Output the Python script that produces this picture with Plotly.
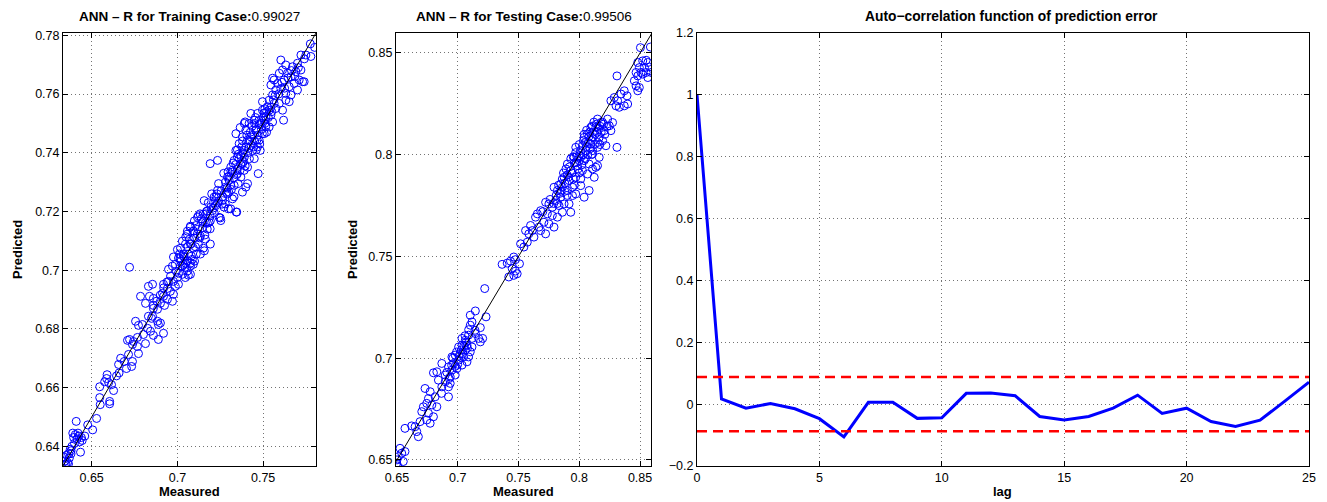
import plotly.graph_objects as go


# -----------------------------
# DATA
# -----------------------------

TRAIN_R = "0.99027"
TEST_R = "0.99506"

# training case: (measured, predicted)
train_points = [
    (0.6335, 0.6365), (0.6340, 0.6335), (0.6345, 0.6350), (0.6350, 0.6340), (0.6355, 0.6370),
    (0.6360, 0.6345), (0.6365, 0.6375), (0.6370, 0.6360), (0.6375, 0.6390), (0.6380, 0.6385),
    (0.6385, 0.6400), (0.6390, 0.6445), (0.6395, 0.6430), (0.6400, 0.6410), (0.6405, 0.6440),
    (0.6410, 0.6485), (0.6415, 0.6425), (0.6420, 0.6445), (0.6425, 0.6435), (0.6430, 0.6415),
    (0.6435, 0.6380), (0.6440, 0.6430), (0.6445, 0.6420), (0.6460, 0.6435), (0.6380, 0.6375),
    (0.6365, 0.6340), (0.6477, 0.6473), (0.6506, 0.6456), (0.6529, 0.6495),
    (0.6547, 0.6603), (0.6547, 0.6566), (0.6550, 0.6542), (0.6587, 0.6631), (0.6599, 0.6617),
    (0.6605, 0.6545), (0.6605, 0.6553), (0.6628, 0.6590), (0.6616, 0.6610), (0.6645, 0.6640),
    (0.6660, 0.6650), (0.6590, 0.6644), (0.6576, 0.6620),
    (0.6657, 0.6679), (0.6669, 0.6700), (0.6690, 0.6689), (0.6703, 0.6665), (0.6715, 0.6713),
    (0.6733, 0.6672), (0.6738, 0.6689), (0.6709, 0.6761), (0.6721, 0.6764), (0.6738, 0.6747),
    (0.6744, 0.6757), (0.6767, 0.6740), (0.6773, 0.6716), (0.6767, 0.6771), (0.6756, 0.6826),
    (0.6773, 0.6812), (0.6796, 0.6815), (0.6802, 0.6781), (0.6814, 0.6750), (0.6831, 0.6843),
    (0.6849, 0.6836), (0.6826, 0.6802), (0.6843, 0.6792), (0.6860, 0.6778), (0.6889, 0.6764),
    (0.6919, 0.6785), (0.6889, 0.6815), (0.6901, 0.6820), (0.6721, 0.7010),
    (0.6831, 0.6945), (0.6855, 0.6952), (0.6837, 0.6911), (0.6785, 0.6911), (0.6814, 0.6887),
    (0.6860, 0.6904), (0.6860, 0.6870), (0.6884, 0.6867), (0.6901, 0.6887), (0.6913, 0.6921),
    (0.6919, 0.6952), (0.6942, 0.6938), (0.6948, 0.6962), (0.6959, 0.6928), (0.6977, 0.6918),
    (0.6971, 0.6894), (0.6942, 0.6901), (0.6925, 0.6880), (0.6988, 0.6945), (0.7006, 0.6952),
    (0.6948, 0.7003), (0.6971, 0.7014), (0.6994, 0.6996), (0.7000, 0.6975), (0.7029, 0.6986),
    (0.7017, 0.7014), (0.7035, 0.7020), (0.7046, 0.6975), (0.7064, 0.6983), (0.7006, 0.7041),
    (0.7035, 0.7048), (0.7076, 0.7014), (0.7093, 0.7020), (0.7087, 0.7037), (0.7058, 0.7031),
    (0.7134, 0.7055), (0.7157, 0.7066), (0.6977, 0.6962), (0.6919, 0.6911), (0.6884, 0.6826),
    (0.6855, 0.6843),
    (0.7122, 0.7185), (0.7151, 0.7191), (0.7174, 0.7202), (0.7209, 0.7212), (0.7233, 0.7229),
    (0.7279, 0.7226), (0.7297, 0.7209), (0.7343, 0.7198), (0.7250, 0.7178), (0.7192, 0.7168),
    (0.7163, 0.7161), (0.7076, 0.7150), (0.7093, 0.7133), (0.7058, 0.7123), (0.7116, 0.7123),
    (0.7145, 0.7144), (0.7174, 0.7140), (0.7192, 0.7089), (0.7151, 0.7075), (0.7163, 0.7106),
    (0.7134, 0.7116), (0.7093, 0.7075), (0.7076, 0.7089), (0.7047, 0.7089), (0.7018, 0.7075),
    (0.7000, 0.7070), (0.7035, 0.7055), (0.7064, 0.7055), (0.7082, 0.7048), (0.7110, 0.7055),
    (0.7100, 0.7031), (0.7076, 0.7024), (0.7047, 0.7024), (0.7029, 0.7014), (0.7058, 0.6997),
    (0.7076, 0.6986), (0.7006, 0.6990), (0.6988, 0.7020), (0.6977, 0.7045), (0.7012, 0.7055),
    (0.7029, 0.7099), (0.7058, 0.7133), (0.7099, 0.7168), (0.7122, 0.7089),
    (0.7049, 0.7114), (0.7074, 0.7146), (0.7093, 0.7133), (0.7107, 0.7152), (0.7117, 0.7180),
    (0.7132, 0.7192), (0.7156, 0.7237), (0.7165, 0.7192), (0.7185, 0.7163), (0.7191, 0.7141),
    (0.7204, 0.7203), (0.7214, 0.7249), (0.7224, 0.7220), (0.7234, 0.7272), (0.7243, 0.7180),
    (0.7253, 0.7169), (0.7263, 0.7237), (0.7272, 0.7215), (0.7282, 0.7283), (0.7292, 0.7260),
    (0.7302, 0.7306), (0.7311, 0.7209), (0.7321, 0.7243), (0.7331, 0.7289), (0.7346, 0.7198),
    (0.7354, 0.7295), (0.7370, 0.7317), (0.7379, 0.7266), (0.7389, 0.7340), (0.7399, 0.7283),
    (0.7409, 0.7295), (0.7191, 0.7363), (0.7234, 0.7374), (0.7471, 0.7329),
    (0.7311, 0.7351), (0.7331, 0.7374), (0.7341, 0.7408), (0.7350, 0.7329), (0.7360, 0.7431),
    (0.7370, 0.7391), (0.7379, 0.7454), (0.7389, 0.7408), (0.7399, 0.7477), (0.7409, 0.7443),
    (0.7418, 0.7500), (0.7428, 0.7454), (0.7438, 0.7408), (0.7448, 0.7511), (0.7457, 0.7477),
    (0.7467, 0.7534), (0.7477, 0.7443), (0.7487, 0.7500), (0.7496, 0.7545), (0.7506, 0.7465),
    (0.7516, 0.7522), (0.7525, 0.7557), (0.7535, 0.7488), (0.7395, 0.7505), (0.7428, 0.7534),
    (0.7467, 0.7420), (0.7350, 0.7386), (0.7321, 0.7334), (0.7292, 0.7317), (0.7341, 0.7465),
    (0.7366, 0.7486), (0.7448, 0.7380), (0.7483, 0.7408), (0.7506, 0.7511), (0.7545, 0.7528),
    (0.7564, 0.7568), (0.7555, 0.7505), (0.7619, 0.7511), (0.7496, 0.7574), (0.7379, 0.7363),
    (0.7409, 0.7351), (0.7390, 0.7500),
    (0.7535, 0.7579), (0.7555, 0.7597), (0.7574, 0.7614), (0.7584, 0.7636), (0.7603, 0.7619),
    (0.7623, 0.7648), (0.7632, 0.7602), (0.7642, 0.7671), (0.7652, 0.7625), (0.7662, 0.7659),
    (0.7671, 0.7693), (0.7681, 0.7636), (0.7691, 0.7676), (0.7700, 0.7705), (0.7710, 0.7648),
    (0.7720, 0.7682), (0.7730, 0.7642), (0.7739, 0.7642), (0.7613, 0.7682), (0.7594, 0.7671),
    (0.7564, 0.7648), (0.7555, 0.7654), (0.7545, 0.7631), (0.7603, 0.7716), (0.7632, 0.7699),
    (0.7662, 0.7597), (0.7632, 0.7579), (0.7652, 0.7574), (0.7720, 0.7733), (0.7775, 0.7771),
    (0.7800, 0.7759), (0.7778, 0.7728), (0.7749, 0.7733), (0.7574, 0.7551), (0.7594, 0.7568),
    (0.7613, 0.7545), (0.7700, 0.7614),
    (0.7150, 0.7165), (0.7170, 0.7200), (0.7190, 0.7185), (0.7210, 0.7230), (0.7225, 0.7250),
    (0.7240, 0.7235), (0.7255, 0.7270), (0.7265, 0.7250), (0.7280, 0.7300), (0.7290, 0.7280),
    (0.7300, 0.7320), (0.7310, 0.7290), (0.7320, 0.7340), (0.7330, 0.7315), (0.7340, 0.7360),
    (0.7350, 0.7345), (0.7360, 0.7380), (0.7370, 0.7360), (0.7380, 0.7400), (0.7390, 0.7385),
    (0.7400, 0.7420), (0.7410, 0.7400), (0.7420, 0.7440), (0.7430, 0.7425), (0.7440, 0.7460),
    (0.7450, 0.7440), (0.7460, 0.7480), (0.7470, 0.7460), (0.7480, 0.7495), (0.7490, 0.7480),
    (0.7500, 0.7520), (0.7510, 0.7500), (0.7520, 0.7540), (0.7530, 0.7520), (0.7545, 0.7555),
    (0.7560, 0.7580), (0.7100, 0.7110), (0.7080, 0.7090), (0.7060, 0.7080), (0.7040, 0.7045),
    (0.7120, 0.7140), (0.7130, 0.7110), (0.7270, 0.7330), (0.7300, 0.7265), (0.7350, 0.7410),
    (0.7395, 0.7355), (0.7435, 0.7490), (0.7460, 0.7410), (0.7240, 0.7295), (0.7200, 0.7260),
    (0.7330, 0.7250), (0.7380, 0.7440), (0.7420, 0.7380), (0.7450, 0.7500), (0.7480, 0.7430),
    (0.7510, 0.7550), (0.7520, 0.7470), (0.7160, 0.7120), (0.7180, 0.7230), (0.7020, 0.7030),
    (0.6960, 0.6980), (0.6940, 0.6960), (0.6920, 0.6940), (0.6900, 0.6915), (0.6880, 0.6895),
    (0.6860, 0.6880),
    (0.7015, 0.7040), (0.7045, 0.7010), (0.7070, 0.7105), (0.7105, 0.7080), (0.7140, 0.7175),
    (0.7175, 0.7160), (0.7195, 0.7215), (0.7215, 0.7195), (0.7230, 0.7260), (0.7260, 0.7225),
    (0.7285, 0.7265), (0.7295, 0.7335), (0.7315, 0.7275), (0.7325, 0.7365), (0.7345, 0.7325),
    (0.7355, 0.7395), (0.7365, 0.7340), (0.7375, 0.7420), (0.7385, 0.7370), (0.7405, 0.7460),
    (0.7415, 0.7415), (0.7425, 0.7470), (0.7445, 0.7420), (0.7455, 0.7520), (0.7465, 0.7445),
    (0.7475, 0.7510), (0.7495, 0.7465), (0.7505, 0.7535), (0.7515, 0.7490), (0.7535, 0.7545),
    (0.7550, 0.7540), (0.7570, 0.7595), (0.7590, 0.7600), (0.7610, 0.7640), (0.7625, 0.7620),
    (0.7645, 0.7655), (0.7665, 0.7680), (0.7685, 0.7660), (0.7705, 0.7690), (0.7740, 0.7720),
]

# testing case: (measured, predicted)
test_points = [
    (0.8503, 0.8526), (0.8585, 0.8529), (0.8481, 0.8453), (0.8522, 0.8461), (0.8550, 0.8464),
    (0.8564, 0.8453), (0.8494, 0.8428), (0.8536, 0.8428), (0.8577, 0.8431), (0.8467, 0.8404),
    (0.8508, 0.8404), (0.8550, 0.8404), (0.8591, 0.8404), (0.8481, 0.8387), (0.8522, 0.8396),
    (0.8564, 0.8379), (0.8467, 0.8338), (0.8494, 0.8330), (0.8481, 0.8314), (0.8453, 0.8363),
    (0.8310, 0.8387), (0.8260, 0.8265), (0.8288, 0.8281), (0.8315, 0.8265), (0.8343, 0.8298),
    (0.8370, 0.8314), (0.8393, 0.8289), (0.8329, 0.8233), (0.8370, 0.8240), (0.8398, 0.8249),
    (0.8302, 0.8240),
    (0.8150, 0.8175), (0.8178, 0.8158), (0.8233, 0.8175), (0.8247, 0.8142), (0.8274, 0.8158),
    (0.8260, 0.8118), (0.8205, 0.8118), (0.8136, 0.8134), (0.8095, 0.8134), (0.8068, 0.8101),
    (0.8109, 0.8085), (0.8164, 0.8085), (0.8192, 0.8069), (0.8219, 0.8044), (0.8150, 0.8036),
    (0.8095, 0.8052), (0.8040, 0.8085), (0.8026, 0.8044), (0.8054, 0.8020), (0.8109, 0.8003),
    (0.8164, 0.7987), (0.8136, 0.7938), (0.8081, 0.7954), (0.8040, 0.7971), (0.7999, 0.7995),
    (0.7971, 0.8036), (0.7957, 0.7987), (0.7985, 0.7946), (0.8026, 0.7922), (0.8068, 0.7905),
    (0.8109, 0.7930), (0.8150, 0.7946), (0.8012, 0.7881), (0.7971, 0.7889), (0.7930, 0.7922),
    (0.7902, 0.7954), (0.7916, 0.7873), (0.7875, 0.7889), (0.7861, 0.7840), (0.7902, 0.7824),
    (0.7944, 0.7840), (0.7971, 0.7807), (0.7847, 0.7791), (0.7820, 0.7824), (0.7792, 0.7840),
    (0.7806, 0.7775), (0.7833, 0.7750), (0.7875, 0.7758), (0.7916, 0.7758), (0.7944, 0.7799),
    (0.7778, 0.7742), (0.7750, 0.7758), (0.7723, 0.7766), (0.7737, 0.7709), (0.7778, 0.7701),
    (0.7820, 0.7693), (0.7861, 0.7717), (0.7682, 0.7725), (0.7655, 0.7709), (0.7640, 0.7693),
    (0.7709, 0.7668), (0.7750, 0.7660), (0.7792, 0.7644), (0.7668, 0.7644), (0.7613, 0.7627),
    (0.7627, 0.7595), (0.7585, 0.7611), (0.7558, 0.7627), (0.7572, 0.7570), (0.7544, 0.7546),
    (0.7517, 0.7562), (0.7682, 0.7627), (0.7723, 0.7611), (0.7599, 0.7652), (0.8310, 0.8036),
    (0.8012, 0.7848), (0.8081, 0.7824), (0.8040, 0.7791), (0.7847, 0.7856), (0.7930, 0.7717),
    (0.8123, 0.7889),
    (0.7900, 0.7900), (0.7920, 0.7940), (0.7940, 0.7910), (0.7960, 0.7960), (0.7980, 0.7990),
    (0.8000, 0.7970), (0.8010, 0.8020), (0.8030, 0.8000), (0.8050, 0.8060), (0.8060, 0.8040),
    (0.8080, 0.8090), (0.8100, 0.8070), (0.8110, 0.8110), (0.8130, 0.8100), (0.8140, 0.8150),
    (0.8070, 0.8000), (0.8090, 0.8030), (0.8020, 0.7950), (0.7990, 0.7930), (0.7950, 0.7880),
    (0.7880, 0.7860), (0.7860, 0.7880), (0.7840, 0.7810), (0.7810, 0.7800), (0.7870, 0.7910),
    (0.8040, 0.8100), (0.8120, 0.8160), (0.8160, 0.8130), (0.8180, 0.8110), (0.8200, 0.8150),
    (0.7970, 0.8010), (0.8000, 0.8050), (0.8060, 0.8120), (0.8150, 0.8060), (0.8110, 0.8020),
    (0.7930, 0.7980),
    (0.7700, 0.7720), (0.7760, 0.7780), (0.7790, 0.7760), (0.7830, 0.7850), (0.7850, 0.7820),
    (0.7890, 0.7930), (0.7910, 0.7890), (0.7950, 0.7990), (0.7975, 0.7960), (0.8015, 0.7990),
    (0.8035, 0.8070), (0.8075, 0.8060), (0.8085, 0.8110), (0.8105, 0.8140), (0.8125, 0.8050),
    (0.8145, 0.8110), (0.8170, 0.8140), (0.8190, 0.8160), (0.8210, 0.8100), (0.8230, 0.8140),
    (0.8000, 0.7910), (0.8050, 0.7980), (0.7960, 0.7850), (0.7900, 0.7800), (0.7820, 0.7760),
    (0.7880, 0.7820), (0.8100, 0.8000), (0.8170, 0.8050),
    (0.7365, 0.7461), (0.7407, 0.7467), (0.7434, 0.7477), (0.7461, 0.7497), (0.7475, 0.7484),
    (0.7508, 0.7464), (0.7448, 0.7440), (0.7475, 0.7428), (0.7489, 0.7415), (0.7420, 0.7399),
    (0.7461, 0.7407), (0.7222, 0.7342),
    (0.7145, 0.7232), (0.7103, 0.7211), (0.7117, 0.7178), (0.7103, 0.7162), (0.7233, 0.7203),
    (0.7186, 0.7150), (0.7145, 0.7121), (0.7205, 0.7097), (0.7172, 0.7097), (0.7186, 0.7080),
    (0.7117, 0.7097), (0.7089, 0.7113), (0.7062, 0.7088), (0.7076, 0.7064), (0.7117, 0.7055),
    (0.7103, 0.7031), (0.7062, 0.7039), (0.7035, 0.7064), (0.7021, 0.7023), (0.7048, 0.7006),
    (0.7089, 0.7006), (0.7007, 0.6990), (0.6979, 0.7015), (0.6965, 0.6974), (0.6993, 0.6949),
    (0.7035, 0.6966), (0.7076, 0.6982), (0.6952, 0.6941), (0.6924, 0.6957), (0.6938, 0.6908),
    (0.6979, 0.6917), (0.6897, 0.6917), (0.6869, 0.6974), (0.6828, 0.6933), (0.6800, 0.6928),
    (0.6841, 0.6892), (0.6897, 0.6884), (0.6938, 0.6876), (0.6924, 0.6859), (0.6869, 0.6859),
    (0.6731, 0.6851), (0.6773, 0.6835), (0.6814, 0.6810), (0.6759, 0.6802), (0.6745, 0.6778),
    (0.6787, 0.6770), (0.6828, 0.6761), (0.6717, 0.6761), (0.6704, 0.6737), (0.6759, 0.6729),
    (0.6800, 0.6712), (0.6745, 0.6696), (0.6773, 0.6680), (0.6690, 0.6688), (0.6649, 0.6663),
    (0.6621, 0.6667), (0.6566, 0.6655), (0.6663, 0.6639), (0.6676, 0.6614), (0.6525, 0.6557),
    (0.6539, 0.6533), (0.6566, 0.6541), (0.6511, 0.6516), (0.6552, 0.6492), (0.6498, 0.6484),
    (0.6924, 0.6810), (0.6866, 0.6827), (0.6952, 0.7006), (0.7007, 0.7055), (0.7035, 0.7097),
    (0.7142, 0.7137), (0.6500, 0.6500), (0.6505, 0.6470),
    (0.6960, 0.7000), (0.6990, 0.7030), (0.7000, 0.6970), (0.7010, 0.7010), (0.7030, 0.7040),
    (0.7050, 0.7060), (0.7040, 0.7020), (0.7070, 0.7080), (0.7080, 0.7050), (0.6980, 0.6960),
    (0.6950, 0.6965), (0.6910, 0.6930), (0.6930, 0.6900), (0.7060, 0.7110), (0.7090, 0.7140),
]

train_measured = [p[0] for p in train_points]
train_predicted = [p[1] for p in train_points]
test_measured = [p[0] for p in test_points]
test_predicted = [p[1] for p in test_points]

# auto-correlation of prediction error
lags = list(range(26))
acf = [1.0, 0.017, -0.013, 0.002, -0.015, -0.047, -0.106, 0.006, 0.006, -0.046,
       -0.044, 0.035, 0.036, 0.027, -0.040, -0.051, -0.040, -0.013, 0.029, -0.030,
       -0.013, -0.056, -0.072, -0.052, 0.009, 0.071]
conf_bound = 0.088

# axis ranges / ticks
train_range = [0.6333, 0.7808]
train_xticks = [0.65, 0.7, 0.75]
train_xtext = ["0.65", "0.7", "0.75"]
train_yticks = [0.64, 0.66, 0.68, 0.70, 0.72, 0.74, 0.76, 0.78]
train_ytext = ["0.64", "0.66", "0.68", "0.7", "0.72", "0.74", "0.76", "0.78"]

test_xrange = [0.6492, 0.8590]
test_yrange = [0.6470, 0.8598]
test_ticks = [0.65, 0.7, 0.75, 0.8, 0.85]
test_text = ["0.65", "0.7", "0.75", "0.8", "0.85"]

acf_xticks = [0, 5, 10, 15, 20, 25]
acf_yticks = [-0.2, 0, 0.2, 0.4, 0.6, 0.8, 1.0, 1.2]
acf_ytext = ["\u22120.2", "0", "0.2", "0.4", "0.6", "0.8", "1", "1.2"]


# -----------------------------
# FIGURE
# -----------------------------

FONT = "Liberation Sans, Arial, sans-serif"
BLUE = "#0000ff"

fig = go.Figure()

marker = dict(symbol="circle-open", size=8, color=BLUE, line=dict(width=1, color=BLUE))

fig.add_trace(go.Scatter(
    x=train_measured, y=train_predicted, mode="markers",
    marker=marker, xaxis="x", yaxis="y", showlegend=False
))
fig.add_trace(go.Scatter(
    x=train_range, y=train_range, mode="lines",
    line=dict(color="black", width=1), xaxis="x", yaxis="y", showlegend=False
))

fig.add_trace(go.Scatter(
    x=test_measured, y=test_predicted, mode="markers",
    marker=marker, xaxis="x2", yaxis="y2", showlegend=False
))
fig.add_trace(go.Scatter(
    x=[test_yrange[0], test_yrange[1]], y=[test_yrange[0], test_yrange[1]], mode="lines",
    line=dict(color="black", width=1), xaxis="x2", yaxis="y2", showlegend=False
))

fig.add_trace(go.Scatter(
    x=lags, y=acf, mode="lines",
    line=dict(color=BLUE, width=3), xaxis="x3", yaxis="y3", showlegend=False
))
for b in (conf_bound, -conf_bound):
    fig.add_trace(go.Scatter(
        x=[lags[0], lags[-1]], y=[b, b], mode="lines",
        line=dict(color="#ff0000", width=2.5, dash="10px,6px"),
        xaxis="x3", yaxis="y3", showlegend=False
    ))


def axis_style(**kw):
    base = dict(
        showline=True, linecolor="black", linewidth=1, mirror="ticks",
        ticks="inside", ticklen=5, tickcolor="black", automargin=False,
        showgrid=True, gridcolor="rgba(0,0,0,0.55)", gridwidth=1, griddash="1px,3px",
        zeroline=False, tickfont=dict(family=FONT, size=12.5, color="black"),
    )
    base.update(kw)
    return base


W, H = 1327, 502
y_dom = [1 - 466 / H, 1 - 33 / H]
P1 = (63, 316)
P2 = (396, 651)
P3 = (697, 1309)

fig.update_layout(
    width=W, height=H,
    margin=dict(l=0, r=0, t=0, b=0),
    paper_bgcolor="white", plot_bgcolor="white",
    font=dict(family=FONT, color="black"),
    xaxis=axis_style(domain=[P1[0] / W, P1[1] / W], range=train_range,
                     tickvals=train_xticks, ticktext=train_xtext, anchor="y"),
    yaxis=axis_style(domain=y_dom, range=train_range,
                     tickvals=train_yticks, ticktext=train_ytext, anchor="x"),
    xaxis2=axis_style(domain=[P2[0] / W, P2[1] / W], range=test_xrange,
                      tickvals=test_ticks, ticktext=test_text, anchor="y2"),
    yaxis2=axis_style(domain=y_dom, range=test_yrange,
                      tickvals=test_ticks, ticktext=test_text, anchor="x2"),
    xaxis3=axis_style(domain=[P3[0] / W, P3[1] / W], range=[0, 25],
                      tickvals=acf_xticks, anchor="y3"),
    yaxis3=axis_style(domain=y_dom, range=[-0.2, 1.2],
                      tickvals=acf_yticks, ticktext=acf_ytext, anchor="x3"),
)

title_font = dict(family=FONT, size=13.5, color="black")
acf_title_font = dict(family=FONT, size=13.8, color="black")
label_font = dict(family=FONT, size=13, color="black")

annotations = [
    dict(x=sum(P1) / 2 / W, y=1 - 17 / H,
         text="<b>ANN \u2013 R for Training Case:</b>" + TRAIN_R, font=title_font),
    dict(x=sum(P2) / 2 / W, y=1 - 17 / H,
         text="<b>ANN \u2013 R for Testing Case:</b>" + TEST_R, font=title_font),
    dict(x=(sum(P3) / 2 + 8) / W, y=1 - 17 / H,
         text="<b>Auto\u2212correlation function of prediction error</b>", font=acf_title_font),
    dict(x=sum(P1) / 2 / W, y=1 - 491 / H, text="<b>Measured</b>", font=label_font),
    dict(x=sum(P2) / 2 / W, y=1 - 491 / H, text="<b>Measured</b>", font=label_font),
    dict(x=sum(P3) / 2 / W, y=1 - 491 / H, text="<b>lag</b>", font=label_font),
    dict(x=17 / W, y=(1 - 250 / H), text="<b>Predicted</b>", font=label_font, textangle=-90),
    dict(x=352 / W, y=(1 - 250 / H), text="<b>Predicted</b>", font=label_font, textangle=-90),
]
for a in annotations:
    a.update(xref="paper", yref="paper", showarrow=False, xanchor="center", yanchor="middle")
fig.update_layout(annotations=annotations)

# the page body has a default 8px margin; remove it so the figure sits at the top-left
fig.write_html("out.html", config={"displayModeBar": False},
               post_script="document.body.style.margin='0';")
